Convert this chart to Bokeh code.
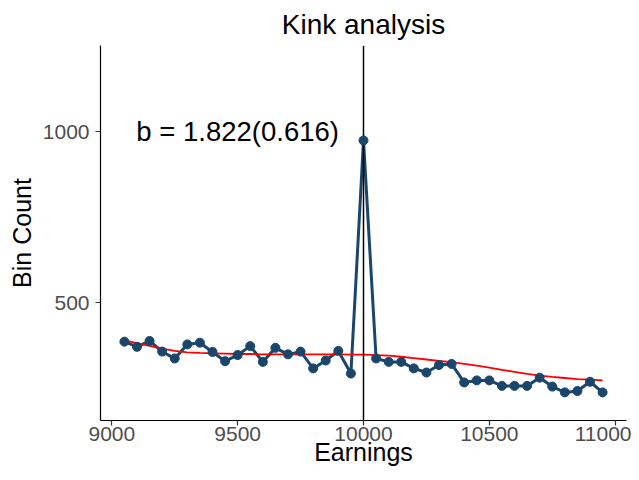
from bokeh.plotting import figure
from bokeh.models import Range1d, FixedTicker, Span, Label, ColumnDataSource
from bokeh.embed import file_html
from bokeh.resources import INLINE

# ---- data ----
earnings = [9050, 9100, 9150, 9200, 9250, 9300, 9350, 9400, 9450, 9500,
            9550, 9600, 9650, 9700, 9750, 9800, 9850, 9900, 9950, 10000,
            10050, 10100, 10150, 10200, 10250, 10300, 10350, 10400, 10450, 10500,
            10550, 10600, 10650, 10700, 10750, 10800, 10850, 10900, 10950]
bin_count = [387, 372, 389, 358, 338, 379, 384, 357, 330, 348,
             374, 328, 369, 350, 358, 309, 332, 360, 294, 974,
             338, 328, 328, 309, 297, 319, 322, 268, 274, 274,
             258, 258, 258, 282, 256, 239, 243, 270, 239]
fitted = [391, 383, 375, 367, 360, 356, 354, 353, 352, 351,
          351, 350, 350, 350, 350, 350, 350, 350, 349, 349,
          348, 346, 343, 339, 335, 331, 327, 322, 317, 311,
          305, 299, 293, 288, 284, 281, 278, 276, 274]
kink = 10000
x_ticks = [9000, 9500, 10000, 10500, 11000]
y_ticks = [500, 1000]
title_text = "Kink analysis"
annotation_text = "b = 1.822(0.616)"
annotation_pos = (9500, 1000)

FONT = "Liberation Sans"
BLUE = "#1B466B"

src = ColumnDataSource(dict(x=earnings, y=bin_count, fit=fitted))

p = figure(width=631, height=472,
           x_range=Range1d(8955, 11045), y_range=Range1d(157, 1251),
           output_backend="svg", toolbar_location=None,
           min_border_left=100, min_border_right=5,
           min_border_top=45, min_border_bottom=52,
           title=title_text)

p.title.align = "center"
p.title.text_font = FONT
p.title.text_font_size = "28px"
p.title.text_font_style = "normal"
p.title.text_color = "black"
p.title.standoff = 11
p.title.offset = 0

p.xgrid.visible = False
p.ygrid.visible = False
p.outline_line_color = None
p.background_fill_color = "white"
p.border_fill_color = "white"

# axes
for ax in (p.xaxis[0], p.yaxis[0]):
    ax.axis_line_color = "black"
    ax.axis_line_width = 1.2
    ax.major_tick_line_color = "#333333"
    ax.major_tick_line_width = 1.2
    ax.major_tick_in = 0
    ax.major_tick_out = 5
    ax.minor_tick_line_color = None
    ax.major_label_text_font = FONT
    ax.major_label_text_font_size = "21px"
    ax.major_label_text_color = "#4D4D4D"
    ax.axis_label_text_font = FONT
    ax.axis_label_text_font_size = "25px"
    ax.axis_label_text_font_style = "normal"
    ax.axis_label_text_color = "black"

p.xaxis.ticker = FixedTicker(ticks=x_ticks, minor_ticks=[])
p.yaxis.ticker = FixedTicker(ticks=y_ticks, minor_ticks=[])
p.xaxis.axis_label = "Earnings"
p.yaxis.axis_label = "Bin Count"
p.xaxis.major_label_standoff = 1
p.xaxis.axis_label_standoff = -6
p.yaxis.major_label_standoff = 6
p.yaxis.axis_label_standoff = 4

# glyphs
p.line("x", "y", source=src, line_color=BLUE, line_width=3)
p.line("x", "fit", source=src, line_color="red", line_width=1.8)
p.add_layout(Span(location=kink, dimension="height", line_color="black", line_width=1.5))
pts = p.scatter("x", "y", source=src, size=9, fill_color=BLUE, line_color=BLUE)
pts.level = "overlay"

p.add_layout(Label(x=annotation_pos[0], y=annotation_pos[1], text=annotation_text,
                   text_align="center", text_baseline="middle",
                   text_font=FONT, text_font_size="27.5px", text_color="black"))

open("out.html", "w").write(file_html(p, INLINE))
